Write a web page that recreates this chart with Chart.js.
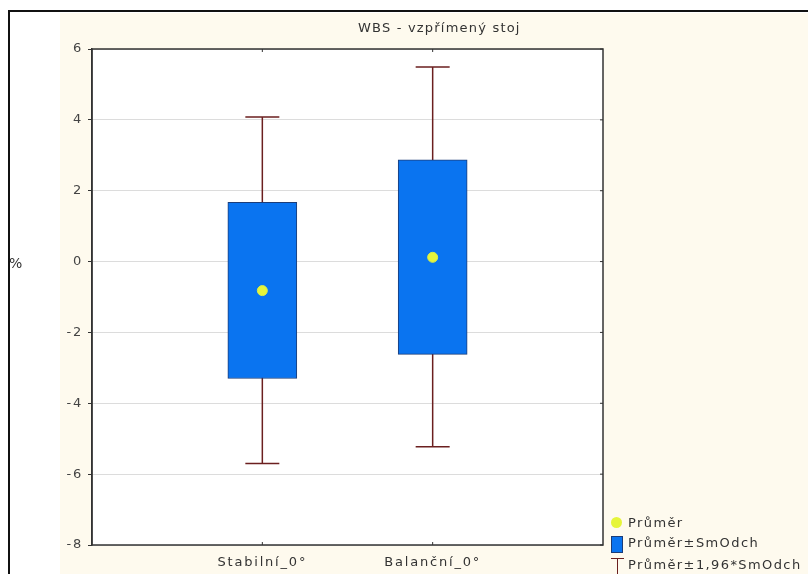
<!DOCTYPE html>
<html>
<head>
<meta charset="utf-8">
<script src="https://cdn.jsdelivr.net/npm/chart.js@4/dist/chart.umd.min.js"></script>
<style>
  html, body { margin: 0; padding: 0; background: #fff; overflow: hidden; }
  #wrap { position: relative; width: 808px; height: 574px; }
  #frame { position: absolute; left: 8px; top: 10px; width: 820px; height: 600px;
           border-left: 2px solid #111; border-top: 2px solid #111; background: #fff; }
  #cream { position: absolute; left: 60px; top: 13px; width: 760px; height: 570px; background: #fefaee; }
  canvas { position: absolute; left: 0; top: 0; }
  .txt { position: absolute; font-family: "DejaVu Sans", sans-serif; color: #333; white-space: nowrap; line-height: 15px; }
  #title { left: 358px; top: 20px; font-size: 13px; letter-spacing: 1.2px; }
  #ylab { left: 9px; top: 256px; font-size: 14px; }
  .leg { left: 628px; font-size: 13px; letter-spacing: 1.4px; }
</style>
</head>
<body>
<div id="wrap">
  <div id="frame"></div>
  <div id="cream"></div>
  <canvas id="c" width="808" height="574"></canvas>
  <div class="txt" id="title">WBS - vzpřímený stoj</div>
  <div class="txt" id="ylab">%</div>
  <div style="position:absolute;left:611px;top:517px;width:11px;height:11px;border-radius:50%;background:#e6f53a;"></div>
  <div class="txt leg" style="top:515px;">Průměr</div>
  <div style="position:absolute;left:611px;top:536px;width:10px;height:15px;background:#0a74f0;border:1px solid #1c3d78;"></div>
  <div class="txt leg" style="top:535px;">Průměr±SmOdch</div>
  <div style="position:absolute;left:611px;top:558px;width:13px;height:16px;">
    <div style="position:absolute;left:0;top:0;width:13px;height:1px;background:#6b1f1f;"></div>
    <div style="position:absolute;left:6px;top:0;width:1px;height:16px;background:#6b1f1f;"></div>
  </div>
  <div class="txt leg" style="top:557px;">Průměr±1,96*SmOdch</div>
</div>
<script>
const categories = ['Stabilní_0°', 'Balanční_0°'];
const means  = [-0.82, 0.12];
const sdLow  = [-3.30, -2.62];
const sdHigh = [1.67, 2.87];
const ciLow  = [-5.70, -5.23];
const ciHigh = [4.08, 5.49];
const yTicks = [6, 4, 2, 0, -2, -4, -6, -8];

// pad with empty labels so the two groups sit at 1/3 and 2/3 of the axis
const labels = ['', ...categories, ''];
const pad = arr => [null, ...arr, null];

const whiskerPlugin = {
  id: 'whiskers',
  beforeDatasetsDraw(chart) {
    const { ctx, scales: { x, y } } = chart;
    ctx.letterSpacing = '0px';
    ctx.save();
    ctx.strokeStyle = '#6b1f1f';
    ctx.lineWidth = 1.5;
    categories.forEach((c, i) => {
      const px = x.getPixelForValue(i + 1);
      const top = y.getPixelForValue(ciHigh[i]);
      const bot = y.getPixelForValue(ciLow[i]);
      ctx.beginPath();
      ctx.moveTo(px, top); ctx.lineTo(px, bot);
      ctx.moveTo(px - 17, top); ctx.lineTo(px + 17, top);
      ctx.moveTo(px - 17, bot); ctx.lineTo(px + 17, bot);
      ctx.stroke();
    });
    ctx.restore();
  }
};

const framePlugin = {
  id: 'frame',
  beforeDraw(chart) {
    const { ctx, chartArea: a } = chart;
    ctx.save();
    ctx.fillStyle = '#ffffff';
    ctx.fillRect(a.left, a.top, a.right - a.left, a.bottom - a.top);
    ctx.restore();
    // axis labels in the original are widely spaced
    ctx.letterSpacing = '1.8px';
  },
  afterDraw(chart) {
    const { ctx, chartArea: a, scales: { x, y } } = chart;
    ctx.save();
    ctx.strokeStyle = '#333';
    ctx.lineWidth = 1.5;
    ctx.strokeRect(a.left, a.top, a.right - a.left, a.bottom - a.top);
    ctx.lineWidth = 1;
    categories.forEach((c, i) => {
      const px = x.getPixelForValue(i + 1);
      ctx.beginPath();
      ctx.moveTo(px, a.bottom); ctx.lineTo(px, a.bottom - 3);
      ctx.moveTo(px, a.top); ctx.lineTo(px, a.top + 3);
      ctx.stroke();
    });
    yTicks.forEach(v => {
      const py = y.getPixelForValue(v);
      ctx.beginPath();
      ctx.moveTo(a.right, py); ctx.lineTo(a.right - 3, py);
      ctx.stroke();
    });
    ctx.restore();
  }
};

new Chart(document.getElementById('c'), {
  data: {
    labels,
    datasets: [
      {
        type: 'line',
        data: pad(means),
        showLine: false,
        pointRadius: 5,
        pointBackgroundColor: '#e6f53a',
        pointBorderColor: '#d8ee4a',
        pointBorderWidth: 1,
        order: 0
      },
      {
        type: 'bar',
        data: pad(sdLow.map((v, i) => [v, sdHigh[i]])),
        backgroundColor: '#0a74f0',
        borderColor: '#1c3d78',
        borderWidth: 1,
        borderSkipped: false,
        barThickness: 69,
        order: 1
      }
    ]
  },
  options: {
    responsive: false,
    animation: false,
    layout: { padding: { left: 0, top: 49, right: 205, bottom: 0 } },
    plugins: { legend: { display: false }, tooltip: { enabled: false } },
    scales: {
      x: {
        type: 'category',
        offset: false,
        grid: { display: false, drawTicks: false },
        border: { display: false },
        ticks: {
          color: '#333',
          font: { family: 'DejaVu Sans', size: 13 },
          padding: 10,
          autoSkip: false,
          maxRotation: 0
        },
        afterFit(s) { s.height = 29; }
      },
      y: {
        min: -8,
        max: 6,
        grid: { color: '#dcdcdc', lineWidth: 1, tickLength: 4, tickColor: '#333' },
        border: { color: '#333', width: 1.5 },
        ticks: {
          stepSize: 2,
          color: '#444',
          font: { family: 'DejaVu Sans', size: 13 },
          padding: 5
        },
        afterFit(s) { s.width = 92; }
      }
    }
  },
  plugins: [framePlugin, whiskerPlugin]
});
</script>
</body>
</html>
